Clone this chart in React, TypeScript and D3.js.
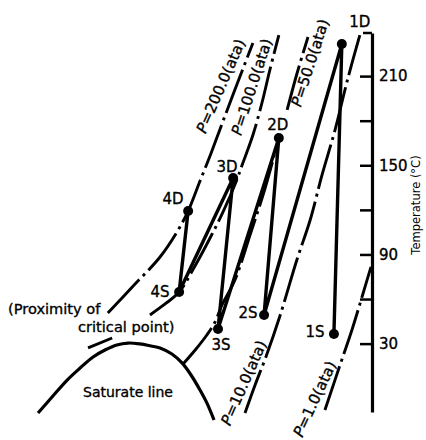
import React, { useEffect, useRef } from "react";
import * as d3 from "d3";

type Pt = [number, number] | null;

// states of the 4-stage compression (entropy s, temperature T in deg C)
const stateNames = ["1S", "1D", "2S", "2D", "3S", "3D", "4S", "4D"];
const stateS = [8.72, 8.94, 6.78, 7.19, 5.5, 5.92, 4.42, 4.67];
const stateT = [36.5, 231.6, 49.3, 168.4, 39.8, 141.4, 64.7, 119.2];

// isobars, null = break in the line
const iso200: Pt[] = [
  [2.44, 50.6], [3.17, 69.4], [3.89, 88.3], [4.36, 105.1], [4.67, 119.2],
  [5.0, 139.4], [5.31, 158.3], [5.61, 177.8], [6.03, 204.7], [6.47, 232.3],
];
const iso100: Pt[] = [
  [1.89, 27.1], [2.56, 33.8], null,
  [3.61, 49.3], [4.03, 56.7], [4.42, 64.7], [4.86, 82.2], [5.25, 99.7],
  [5.64, 118.6], [6.0, 138.8], [6.19, 151.5], [6.47, 170.4], [6.72, 191.9],
  [6.94, 214.1], [7.19, 237.6],
];
const iso50: Pt[] = [
  [4.53, 16.3], [4.89, 26.4], [5.19, 35.8], [5.42, 44.6], [5.61, 56.0],
  [5.97, 72.8], [6.39, 103.1], [6.81, 134.7], [7.19, 168.4], null,
  [7.42, 187.2], [7.69, 211.4], [8.0, 236.3],
];
const iso10: Pt[] = [
  [6.25, -16.7], [6.53, 2.2], [6.83, 21.0], [7.22, 48.6], [7.69, 86.3],
  [8.06, 113.2], [8.39, 143.5], [8.75, 173.7], [9.11, 208.7], [9.44, 237.6],
];
const iso1: Pt[] = [
  [8.47, -14.7], [8.89, 15.6], [9.22, 39.2], [9.5, 61.4], [9.75, 81.6],
];
const pressures = ["200.0", "100.0", "50.0", "10.0", "1.0"];
const isobars = [iso200, iso100, iso50, iso10, iso1];
const isoLabelS = [5.58, 6.44, 8.06, 6.22, 8.19];
const isoLabelT = [203.3, 202.7, 218.8, 3.5, -7.3];

// saturation dome
const dome: Pt[] = [
  [0.5, -16.7], [0.89, -5.9], [1.31, 5.5], [1.67, 13.6], [2.03, 21.0],
  [2.36, 25.7], [2.69, 29.1], [3.0, 30.4], [3.33, 29.8], [3.64, 28.4],
  [3.89, 27.1], [4.22, 23.0], [4.5, 17.0], [4.75, 8.9], [5.0, -1.2],
  [5.19, -9.9], [5.39, -21.4],
];

const tempTicks = [30, 60, 90, 120, 150, 180, 210];
const tempLabels = [30, 90, 150, 210];

// label layout
const isoAngle = [-66.5, -72, -72, -66, -65];
const stateLabelOffset: Record<string, [number, number]> = {
  "1S": [-19, 3], "1D": [18, -17], "2S": [-16, 3], "2D": [-1, -8],
  "3S": [3, 21], "3D": [-6, -6], "4S": [-19, 5], "4D": [-15, -7],
};

const W = 426, H = 440;
const font = "'DejaVu Sans', sans-serif";

export default function App() {
  const ref = useRef<SVGSVGElement>(null);

  useEffect(() => {
    const svg = d3.select(ref.current);
    svg.selectAll("*").remove();

    const x = d3.scaleLinear().domain([0, 10]).range([20, 380]);
    const y = d3.scaleLinear().domain([-16, 239]).range([412, 33]);
    const axisX = 372;

    const line = d3.line<Pt>()
      .defined((d) => d !== null)
      .x((d) => x(d![0]))
      .y((d) => y(d![1]))
      .curve(d3.curveCatmullRom.alpha(0.5));

    svg.append("path")
      .attr("d", line(dome))
      .attr("fill", "none")
      .attr("stroke", "#000")
      .attr("stroke-width", 3.2);

    isobars.forEach((pts) => {
      svg.append("path")
        .attr("d", line(pts))
        .attr("fill", "none")
        .attr("stroke", "#000")
        .attr("stroke-width", 2.9)
        .attr("stroke-dasharray", "46 5 3 5");
    });

    const cycle = d3.line<number>()
      .x((i) => x(stateS[i]))
      .y((i) => y(stateT[i]));
    svg.append("path")
      .attr("d", cycle(d3.range(stateNames.length)))
      .attr("fill", "none")
      .attr("stroke", "#000")
      .attr("stroke-width", 3.4)
      .attr("stroke-linejoin", "round");

    svg.selectAll("circle.state")
      .data(stateNames)
      .enter().append("circle")
      .attr("class", "state")
      .attr("cx", (d, i) => x(stateS[i]))
      .attr("cy", (d, i) => y(stateT[i]))
      .attr("r", 5)
      .attr("fill", "#000");

    // text gets a hairline stroke so it reads as heavy as the printed figure
    const ink = (sel: any) => sel.attr("fill", "#000").attr("stroke", "#000").attr("stroke-width", 0.35);

    svg.selectAll("text.state")
      .data(stateNames)
      .enter().append("text")
      .attr("class", "state")
      .attr("x", (d, i) => x(stateS[i]) + stateLabelOffset[d][0])
      .attr("y", (d, i) => y(stateT[i]) + stateLabelOffset[d][1])
      .attr("text-anchor", "middle")
      .attr("font-family", font)
      .attr("font-size", 15)
      .call(ink)
      .text((d) => d);

    pressures.forEach((p, i) => {
      const t = svg.append("text")
        .attr("transform", `translate(${x(isoLabelS[i])},${y(isoLabelT[i])}) rotate(${isoAngle[i]})`)
        .attr("text-anchor", "middle")
        .attr("dominant-baseline", "central")
        .attr("font-family", font)
        .attr("font-size", 15)
        .call(ink);
      t.append("tspan").attr("font-style", "italic").text("P");
      t.append("tspan").text(`=${p}(ata)`);
    });

    // notes
    svg.append("text")
      .attr("x", 8).attr("y", 314)
      .attr("font-family", font).attr("font-size", 14.6)
      .call(ink)
      .text("(Proximity of");
    svg.append("text")
      .attr("x", 78).attr("y", 332)
      .attr("font-family", font).attr("font-size", 14.6)
      .call(ink)
      .text("critical point)");
    svg.append("text")
      .attr("x", 128).attr("y", 397)
      .attr("text-anchor", "middle")
      .attr("font-family", font).attr("font-size", 14)
      .call(ink)
      .text("Saturate line");

    // temperature axis
    const gTicks = svg.append("g")
      .attr("transform", `translate(${axisX},0)`)
      .call(d3.axisLeft(y).tickValues(tempTicks).tickSize(12).tickSizeOuter(0).tickFormat(() => ""));
    gTicks.select(".domain").attr("stroke-width", 3.2);
    gTicks.selectAll(".tick line").attr("stroke-width", 2.5);
    gTicks.append("line")
      .attr("x1", -9).attr("x2", 0)
      .attr("y1", y(239)).attr("y2", y(239))
      .attr("stroke", "#000").attr("stroke-width", 2.5);

    const gLabels = svg.append("g")
      .attr("transform", `translate(${axisX},0)`)
      .call(d3.axisRight(y).tickValues(tempLabels).tickSize(0).tickPadding(7));
    gLabels.select(".domain").remove();
    gLabels.selectAll("text")
      .attr("font-family", font)
      .attr("font-size", 15)
      .call(ink);

    svg.append("text")
      .attr("transform", `translate(420,205) rotate(-90)`)
      .attr("text-anchor", "middle")
      .attr("font-family", font)
      .attr("font-size", 11.5)
      .attr("fill", "#000")
      .text("Temperature (°C)");
  }, []);

  return (
    <svg
      ref={ref}
      width={W}
      height={H}
      style={{ position: "absolute", left: 0, top: 0, background: "#fff" }}
    />
  );
}
